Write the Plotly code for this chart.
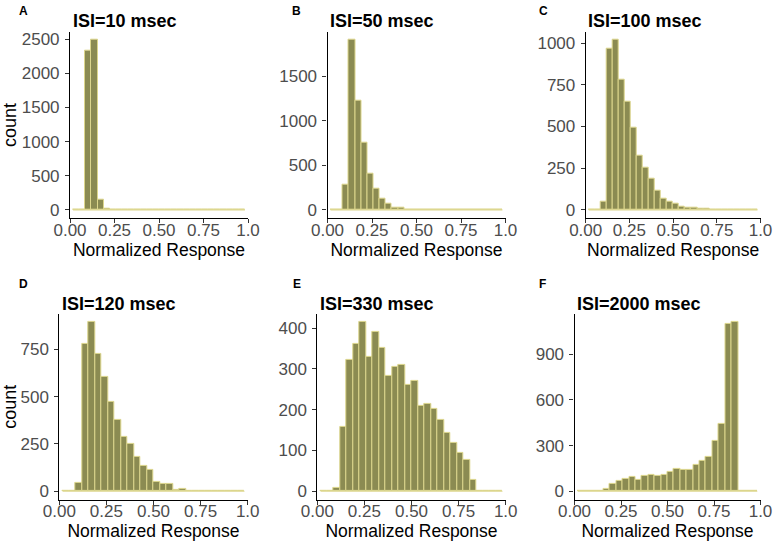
import plotly.graph_objects as go

# ---- data (counts per histogram bin; 28 bins of width 1/29 from 0.0172 to 0.983) ----
N_BINS = 28
BIN_WIDTH = 1 / 29

panel_titles = ["ISI=10 msec", "ISI=50 msec", "ISI=100 msec",
                "ISI=120 msec", "ISI=330 msec", "ISI=2000 msec"]
panel_letters = ["A", "B", "C", "D", "E", "F"]

counts_A = [0, 0, 2330, 2485, 148, 12, 0, 0, 0, 0, 0, 0, 0, 0,
            0, 0, 0, 0, 0, 0, 0, 0, 0, 0, 0, 0, 0, 0]
counts_B = [0, 0, 286, 1902, 1225, 748, 402, 233, 120, 64, 26, 26, 3, 0,
            0, 0, 0, 0, 0, 0, 0, 0, 0, 0, 0, 0, 0, 0]
counts_C = [0, 0, 46, 968, 1018, 779, 648, 491, 322, 251, 187, 117, 68, 46,
            34, 18, 12, 10, 6, 4, 3, 2, 1, 0, 0, 0, 0, 0]
counts_D = [0, 0, 46, 780, 893, 727, 604, 474, 375, 285, 248, 183, 134, 114,
            51, 37, 37, 9, 12, 2, 1, 0, 0, 0, 0, 0, 0, 0]
counts_E = [0, 0, 8, 158, 323, 361, 414, 330, 390, 352, 283, 306, 310, 261,
            270, 209, 214, 201, 175, 143, 119, 93, 76, 29, 2, 0, 0, 0]
counts_F = [0, 0, 2, 5, 13, 48, 70, 84, 92, 73, 101, 110, 103, 105,
            127, 149, 141, 141, 176, 198, 226, 332, 440, 1101, 1110, 0, 0, 0]

x_tickvals = [0, 0.25, 0.5, 0.75, 1.0]
x_ticktext = ["0.00", "0.25", "0.50", "0.75", "1.0"]

yticks_A = [0, 500, 1000, 1500, 2000, 2500]
yticks_B = [0, 500, 1000, 1500]
yticks_C = [0, 250, 500, 750, 1000]
yticks_D = [0, 250, 500, 750]
yticks_E = [0, 100, 200, 300, 400]
yticks_F = [0, 300, 600, 900]

all_counts = [counts_A, counts_B, counts_C, counts_D, counts_E, counts_F]
all_yticks = [yticks_A, yticks_B, yticks_C, yticks_D, yticks_E, yticks_F]

# ---- layout geometry (pixels) ----
W, H = 773, 544
FILL = "#8B8B52"
EDGE = "#DCD68C"
FONT = "Liberation Sans, Arial, sans-serif"

x_px = [(70, 248), (327.5, 505.5), (585.7, 760.5),
        (59.3, 247.7), (317.3, 505.7), (574.5, 760.5)]
y_px = [(31.7, 218.3)] * 3 + [(313.9, 499.7)] * 3
letter_pos = [(17, 10.7), (290, 10.7), (537, 10.7),
              (17, 283.5), (290.5, 283.5), (537, 283.5)]
title_y = [20.7] * 3 + [303.5] * 3

centers = [(i + 1) * BIN_WIDTH for i in range(N_BINS)]
edge_lo = 0.5 * BIN_WIDTH
edge_hi = (N_BINS + 0.5) * BIN_WIDTH

fig = go.Figure()
annotations = []
layout_axes = {}

for k in range(6):
    sfx = "" if k == 0 else str(k + 1)
    xa, ya = "x" + sfx, "y" + sfx
    cnt = all_counts[k]
    fig.add_trace(go.Scatter(x=[edge_lo, edge_hi], y=[0, 0], mode="lines",
                             line=dict(color=EDGE, width=1.2),
                             xaxis=xa, yaxis=ya, showlegend=False, hoverinfo="skip"))
    fig.add_trace(go.Bar(x=centers, y=cnt, width=BIN_WIDTH,
                         marker=dict(color=FILL, line=dict(color=EDGE, width=1)),
                         xaxis=xa, yaxis=ya, showlegend=False))
    ymax = max(cnt)
    x0, x1 = x_px[k]
    yt, yb = y_px[k]
    layout_axes["xaxis" + sfx] = dict(
        domain=[x0 / W, x1 / W], range=[0, 1], anchor=ya, automargin=False,
        tickvals=x_tickvals, ticktext=x_ticktext,
        showline=True, linecolor="black", linewidth=1.1,
        ticks="outside", ticklen=4, tickcolor="#333333", tickwidth=1,
        ticklabelstandoff=-8, ticklabeloverflow="allow",
        showgrid=False, zeroline=False,
        tickfont=dict(family=FONT, size=17, color="#4D4D4D"),
        title=dict(text="Normalized Response", standoff=0,
                   font=dict(family=FONT, size=17.5, color="black")),
    )
    yax = dict(
        domain=[1 - yb / H, 1 - yt / H], range=[-0.05 * ymax, 1.05 * ymax], anchor=xa,
        automargin=False, tickvals=all_yticks[k],
        showline=True, linecolor="black", linewidth=1.1,
        ticks="outside", ticklen=4, tickcolor="#333333", tickwidth=1,
        ticklabelstandoff=2,
        showgrid=False, zeroline=False,
        tickfont=dict(family=FONT, size=17, color="#4D4D4D"),
    )
    if k in (0, 3):
        yax["title"] = dict(text="count", standoff=5,
                            font=dict(family=FONT, size=18, color="black"))
    layout_axes["yaxis" + sfx] = yax

    annotations.append(dict(text="<b>%s</b>" % panel_titles[k], xref="paper", yref="paper",
                            x=(x0 + 0.5) / W, y=1 - title_y[k] / H, xanchor="left", yanchor="middle",
                            showarrow=False, font=dict(family=FONT, size=18, color="black")))
    lx, ly = letter_pos[k]
    annotations.append(dict(text="<b>%s</b>" % panel_letters[k], xref="paper", yref="paper",
                            x=lx / W, y=1 - ly / H, xanchor="left", yanchor="middle",
                            showarrow=False, font=dict(family=FONT, size=12, color="black")))

fig.update_layout(
    width=W, height=H, margin=dict(l=0, r=0, t=0, b=0, autoexpand=False),
    paper_bgcolor="white", plot_bgcolor="white",
    bargap=0, annotations=annotations, **layout_axes,
)

fig.write_html("out.html", config={"displayModeBar": False},
               post_script="document.body.style.margin='0';document.body.style.padding='0';")
